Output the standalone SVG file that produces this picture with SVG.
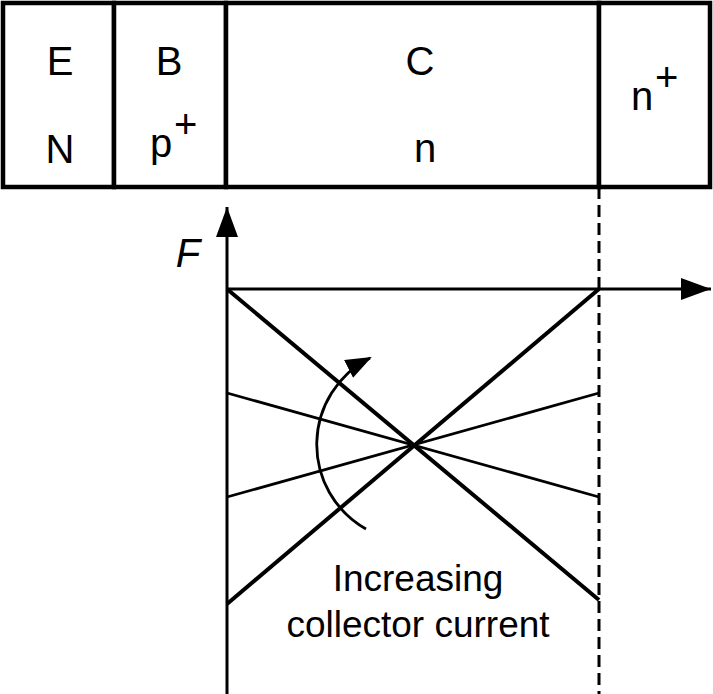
<svg xmlns="http://www.w3.org/2000/svg" width="713" height="694" viewBox="0 0 713 694">
<defs>
<style>
text{font-family:"Liberation Sans",Arial,sans-serif;font-size:40px;fill:#000}
.lbl{font-size:37px}
.box{fill:#fff;stroke:#000;stroke-width:4.5}
.ax{stroke:#000;stroke-width:3;fill:none}
.thick{stroke:#000;stroke-width:4}
.thin{stroke:#000;stroke-width:2.8}
</style>
<marker id="ah" viewBox="0 0 30 22" refX="30" refY="11" markerWidth="30" markerHeight="22" markerUnits="userSpaceOnUse" orient="auto"><path d="M0,0 L30,11 L0,22 Z" fill="#000"/></marker>
<marker id="ah2" viewBox="0 0 26 20" refX="24" refY="10" markerWidth="26" markerHeight="20" markerUnits="userSpaceOnUse" orient="auto"><path d="M0,0 L26,10 L0,20 Z" fill="#000"/></marker>
</defs>
<rect width="713" height="694" fill="#fff"/>
<g id="regionE"><rect class="box" x="3" y="3" width="111" height="184"/><text x="60" y="75" text-anchor="middle">E</text><text x="60" y="163" text-anchor="middle">N</text></g>
<g id="regionB"><rect class="box" x="114" y="3" width="112" height="184"/><text x="150" y="157">p</text><text x="174" y="138">+</text><text x="169" y="75" text-anchor="middle">B</text></g>
<g id="regionC"><rect class="box" x="226" y="3" width="373" height="184"/><text x="420" y="75" text-anchor="middle">C</text><text x="425" y="162" text-anchor="middle">n</text></g>
<g id="regionN"><rect class="box" x="599" y="3" width="111" height="184"/><text x="631" y="110">n</text><text x="655" y="91">+</text></g>
<g id="connectors">
<line class="ax" x1="227" y1="694" x2="227" y2="207" marker-end="url(#ah)"/>
<line class="ax" x1="227" y1="289" x2="711" y2="289" marker-end="url(#ah)"/>
<line stroke="#000" stroke-width="3" stroke-dasharray="12,6" x1="599" y1="187" x2="599" y2="694"/>
<line class="thick" x1="227" y1="289" x2="599" y2="600"/>
<line class="thick" x1="227" y1="604" x2="599" y2="289"/>
<line class="thin" x1="227" y1="393" x2="599" y2="497"/>
<line class="thin" x1="227" y1="497" x2="599" y2="393"/>
<path d="M366,529 A97,97 0 0 1 370,358" class="thin" fill="none" marker-end="url(#ah2)"/>
</g>
<text x="188" y="267" text-anchor="middle" font-style="italic">F</text>
<text class="lbl" x="418" y="591" text-anchor="middle">Increasing</text>
<text class="lbl" x="418" y="637" text-anchor="middle">collector current</text>
</svg>
